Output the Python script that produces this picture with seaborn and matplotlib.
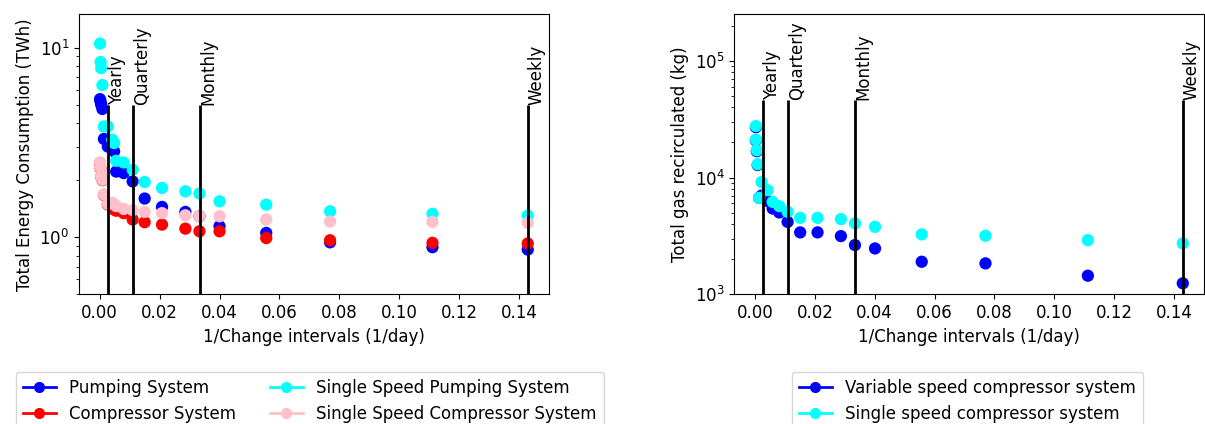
import seaborn as sns
import matplotlib.pyplot as plt
import pandas as pd
from matplotlib.lines import Line2D

plt.rcParams['font.family'] = ['DejaVu Sans']
plt.rcParams['font.size'] = 12

# left panel: energy consumption (TWh)
x_left = [0.0001, 0.0003, 0.0005, 0.0009, 0.0014, 0.0027, 0.0042, 0.0048, 0.0055, 0.0080,
          0.0110, 0.0150, 0.0208, 0.0286, 0.0333, 0.0400, 0.0556, 0.0769, 0.1111, 0.1429]
pumping = [5.35, 5.2, 5.0, 4.75, 3.3, 3.01, 2.9, 2.84, 2.22, 2.18,
           1.97, 1.60, 1.445, 1.36, 1.29, 1.143, 1.054, 0.94, 0.886, 0.861]
compressor = [2.46, 2.30, 2.08, 2.00, 1.67, 1.49, 1.43, 1.40, 1.38, 1.34,
              1.24, 1.20, 1.166, 1.11, 1.075, 1.075, 0.99, 0.964, 0.934, 0.927]
ss_pumping = [10.5, 8.4, 7.8, 6.35, 3.84, 3.84, 3.27, 3.14, 2.53, 2.48,
              2.27, 1.957, 1.82, 1.746, 1.70, 1.547, 1.486, 1.37, 1.33, 1.30]
ss_compressor = [2.48, 2.32, 2.09, 2.01, 1.68, 1.50, 1.52, 1.49, 1.46, 1.41,
                 1.39, 1.36, 1.34, 1.306, 1.29, 1.29, 1.24, 1.21, 1.205, 1.19]

# right panel: gas recirculated (kg)
x_right = [0.0003, 0.0003, 0.0006, 0.0009, 0.0014, 0.0022, 0.0042, 0.0059, 0.0081, 0.0109,
           0.0151, 0.0209, 0.0287, 0.0334, 0.0401, 0.0557, 0.0770, 0.1112, 0.1429]
variable_gas = [27000, 20800, 16800, 12800, 6700, 7000, 6300, 5430, 5020, 4170,
                3390, 3390, 3150, 2640, 2470, 1900, 1840, 1443, 1242]
single_gas = [27600, 21100, 17100, 13000, 6700, 9160, 7780, 6180, 5690, 5080,
              4515, 4515, 4400, 4045, 3785, 3260, 3170, 2910, 2730]

intervals = ['Yearly', 'Quarterly', 'Monthly', 'Weekly']
interval_days = [365, 90, 30, 7]

left_names = ['Pumping System', 'Compressor System',
              'Single Speed Pumping System', 'Single Speed Compressor System']
left_colors = ['blue', 'red', 'cyan', 'pink']
right_names = ['Variable speed compressor system', 'Single speed compressor system']
right_colors = ['blue', 'cyan']

df_left = pd.concat([pd.DataFrame({'x': x_left, 'y': v, 'system': n})
                     for n, v in zip(left_names, [pumping, compressor, ss_pumping, ss_compressor])],
                    ignore_index=True)
df_right = pd.concat([pd.DataFrame({'x': x_right, 'y': v, 'system': n})
                      for n, v in zip(right_names, [variable_gas, single_gas])],
                     ignore_index=True)

fig = plt.figure(figsize=(12.05, 4.24), dpi=100)
ax1 = fig.add_axes([0.0656, 0.3059, 0.3900, 0.6604])
ax2 = fig.add_axes([0.6094, 0.3059, 0.3898, 0.6604])


def draw(ax, df, names, colors, ylim, line_top):
    sns.scatterplot(data=df, x='x', y='y', hue='system', hue_order=names,
                    palette=colors, s=78, linewidth=0, legend=False, ax=ax, zorder=2)
    ax.set_yscale('log')
    ax.set_ylim(*ylim)
    ax.set_xlim(-0.0069, 0.15)
    for lab, d in zip(intervals, interval_days):
        ax.vlines(1 / d, ylim[0], line_top, colors='black', lw=2, zorder=3)
        ax.text(1 / d, line_top, lab, rotation=90, ha='left', va='bottom')
    ax.set_xlabel('1/Change intervals (1/day)')
    handles = [Line2D([], [], color=c, marker='o', markersize=7, lw=2) for c in colors]
    return handles


h1 = draw(ax1, df_left, left_names, left_colors, (0.5, 15), 5)
ax1.set_ylabel('Total Energy Consumption (TWh)')
h2 = draw(ax2, df_right, right_names, right_colors, (1e3, 2.5e5), 4.6e4)
ax2.set_ylabel('Total gas recirculated (kg)')

fig.legend(h1, left_names, ncol=2, loc='upper left', borderaxespad=0,
           bbox_to_anchor=(0.0133, 0.1226))
fig.legend(h2, right_names, ncol=1, loc='upper left', borderaxespad=0,
           bbox_to_anchor=(0.6573, 0.1226))

fig.savefig('out.png', dpi=100)
